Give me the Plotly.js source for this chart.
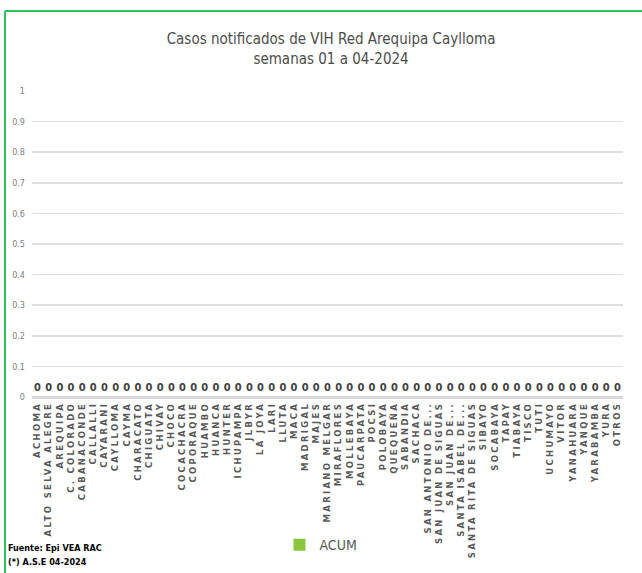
<!DOCTYPE html>
<html>
<head>
<meta charset="utf-8">
<script src="https://cdn.plot.ly/plotly-3.0.1.min.js"></script>
<style>
  html, body { margin: 0; padding: 0; background: #ffffff; }
  #chart { width: 642px; height: 573px; }
  #chart .xtick text { letter-spacing: 2.3px; }
</style>
</head>
<body>
<div id="chart"></div>
<script>
const categories = [
  "ACHOMA", "ALTO SELVA ALEGRE", "AREQUIPA", "C. COLORADO", "CABANACONDE",
  "CALLALLI", "CAYARANI", "CAYLLOMA", "CAYMA", "CHARACATO", "CHIGUATA",
  "CHIVAY", "CHOCO", "COCACHACRA", "COPORAQUE", "HUAMBO", "HUANCA", "HUNTER",
  "ICHUPAMPA", "JLBYR", "LA JOYA", "LARI", "LLUTA", "MACA", "MADRIGAL",
  "MAJES", "MARIANO MELGAR", "MIRAFLORES", "MOLLEBAYA", "PAUCARPATA", "POCSI",
  "POLOBAYA", "QUEQUEÑA", "SABANDIA", "SACHACA", "SAN ANTONIO DE...",
  "SAN JUAN DE SIGUAS", "SAN JUAN DE...", "SANTA ISABEL DE...",
  "SANTA RITA DE SIGUAS", "SIBAYO", "SOCABAYA", "TAPAY", "TIABAYA", "TISCO",
  "TUTI", "UCHUMAYO", "VITOR", "YANAHUARA", "YANQUE", "YARABAMBA", "YURA",
  "OTROS"
];
const acum = [
  0, 0, 0, 0, 0, 0, 0, 0, 0, 0, 0, 0, 0, 0, 0, 0, 0, 0, 0, 0, 0, 0, 0, 0,
  0, 0, 0, 0, 0, 0, 0, 0, 0, 0, 0, 0, 0, 0, 0, 0, 0, 0, 0, 0, 0, 0, 0, 0,
  0, 0, 0, 0, 0
];
const yTickValues = [0, 0.1, 0.2, 0.3, 0.4, 0.5, 0.6, 0.7, 0.8, 0.9, 1];
const yTickLabels = ["0", "0.1", "0.2", "0.3", "0.4", "0.5", "0.6", "0.7", "0.8", "0.9", "1"];

const narrow = '"DejaVu Sans Condensed", "Liberation Sans Narrow", Roboto, sans-serif';

const trace = {
  type: 'bar',
  name: 'ACUM',
  x: categories,
  y: acum,
  text: acum.map(String),
  textposition: 'outside',
  cliponaxis: false,
  textfont: { family: narrow, size: 11, color: '#404040', weight: 'bold' },
  marker: { color: '#8cc63f', line: { width: 0 } },
  hoverinfo: 'x+y'
};

const green = '#2fbf5f';
const layout = {
  width: 642,
  height: 573,
  margin: { l: 32, r: 19, t: 91, b: 172 },
  paper_bgcolor: '#ffffff',
  plot_bgcolor: '#ffffff',
  title: {
    text: 'Casos notificados de VIH Red Arequipa Caylloma<br>semanas 01 a 04-2024',
    font: { family: narrow, size: 15, color: '#4d4d4d' },
    xref: 'paper',
    x: 0.506,
    xanchor: 'center',
    yref: 'container',
    y: 1 - 44 / 573,
    yanchor: 'middle'
  },
  xaxis: {
    type: 'category',
    tickmode: 'array',
    tickvals: categories,
    ticktext: categories,
    tickangle: -90,
    tickfont: { family: '"DejaVu Sans", Verdana, sans-serif', size: 8.5, color: '#595959', weight: 'bold' },
    showgrid: false,
    showline: true,
    linecolor: '#d9d9d9',
    linewidth: 1.5,
    ticks: '',
    automargin: false
  },
  yaxis: {
    range: [0, 1],
    tickvals: yTickValues,
    ticktext: yTickLabels,
    tickfont: { family: narrow, size: 9, color: '#7f7f7f' },
    showgrid: true,
    gridcolor: '#e0e0e0',
    gridwidth: 1.5,
    zeroline: true,
    zerolinecolor: '#d9d9d9',
    zerolinewidth: 1.5,
    ticks: '',
    ticklabelstandoff: 6,
    automargin: false
  },
  showlegend: true,
  legend: {
    orientation: 'h',
    x: 0.489,
    xanchor: 'center',
    xref: 'paper',
    y: (401 - 551) / 310,
    yref: 'paper',
    yanchor: 'middle',
    font: { family: narrow, size: 14, color: '#595959' },
    bgcolor: 'rgba(0,0,0,0)'
  },
  annotations: [
    {
      text: '<b>Fuente: Epi VEA RAC</b>',
      xref: 'paper', yref: 'paper',
      x: (6 - 32) / 591, y: (401 - 554) / 310,
      xanchor: 'left', yanchor: 'middle',
      showarrow: false,
      font: { family: narrow, size: 9, color: '#000000' }
    },
    {
      text: '<b>(*) A.S.E 04-2024</b>',
      xref: 'paper', yref: 'paper',
      x: (6 - 32) / 591, y: (401 - 568) / 310,
      xanchor: 'left', yanchor: 'middle',
      showarrow: false,
      font: { family: narrow, size: 9, color: '#000000' }
    }
  ],
  shapes: [
    {
      type: 'line', xref: 'paper', yref: 'paper',
      x0: (5 - 32) / 591, x1: (645 - 32) / 591,
      y0: (401 - 10) / 310, y1: (401 - 10) / 310,
      line: { color: green, width: 2 }
    },
    {
      type: 'line', xref: 'paper', yref: 'paper',
      x0: (5 - 32) / 591, x1: (5 - 32) / 591,
      y0: (401 - 10) / 310, y1: (401 - 580) / 310,
      line: { color: green, width: 2 }
    }
  ]
};

Plotly.newPlot('chart', [trace], layout, { displayModeBar: false, staticPlot: true });
</script>
</body>
</html>
